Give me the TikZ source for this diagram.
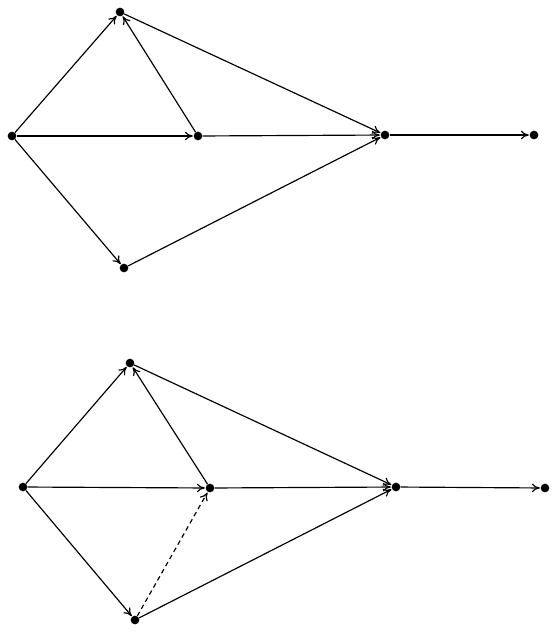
\documentclass[tikz,border=0pt]{standalone}
\usepackage{tikz}
\usetikzlibrary{arrows.meta}

\begin{document}
\begin{tikzpicture}[x=0.03cm, y=-0.03cm,
    every node/.style={circle, fill=black, inner sep=0pt, minimum size=0.26cm},
    edge/.style={-{To[length=2.4mm, width=2.6mm]}, line width=1pt, shorten >=0.5pt}]
  \useasboundingbox (0,0) rectangle (558,632);
  % upper graph
  \node (a1) at (12,136) {};
  \node (b1) at (120,12) {};
  \node (c1) at (198,136) {};
  \node (d1) at (124,268) {};
  \node (e1) at (385,135) {};
  \node (f1) at (534,135) {};
  \draw[edge] (a1) -- (b1);
  \draw[edge] (a1) -- (c1);
  \draw[edge] (a1) -- (d1);
  \draw[edge] (c1) -- (b1);
  \draw[edge] (b1) -- (e1);
  \draw[edge] (c1) -- (e1);
  \draw[edge] (d1) -- (e1);
  \draw[edge] (e1) -- (f1);
  % lower graph
  \node (a2) at (23,487) {};
  \node (b2) at (130,363) {};
  \node (c2) at (210,488) {};
  \node (d2) at (135,620) {};
  \node (e2) at (396,487) {};
  \node (f2) at (545,488) {};
  \draw[edge] (a2) -- (b2);
  \draw[edge] (a2) -- (c2);
  \draw[edge] (a2) -- (d2);
  \draw[edge] (c2) -- (b2);
  \draw[edge] (b2) -- (e2);
  \draw[edge] (c2) -- (e2);
  \draw[edge] (d2) -- (e2);
  \draw[edge] (e2) -- (f2);
  \draw[edge, dash pattern=on 4pt off 3pt] (d2) -- (c2);
\end{tikzpicture}
\end{document}
